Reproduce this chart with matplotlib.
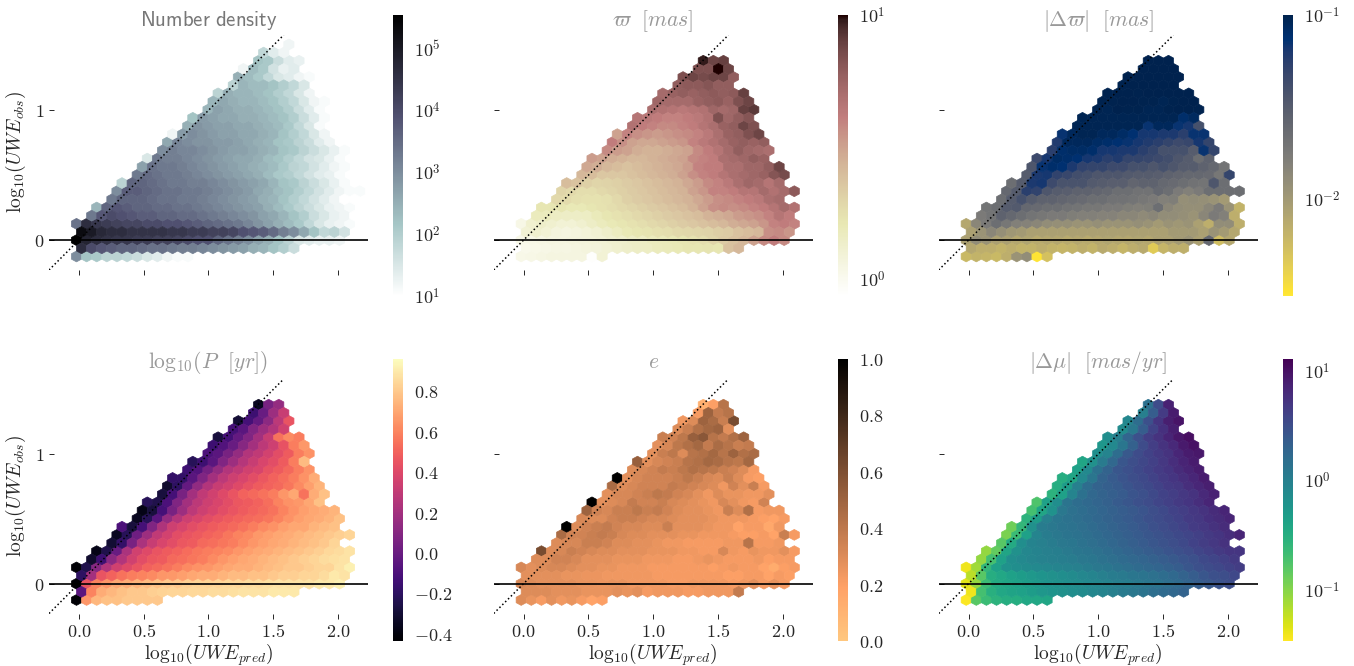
import numpy as np
import matplotlib
matplotlib.use('Agg')
import matplotlib.pyplot as plt
from matplotlib.colors import LogNorm, Normalize

plt.rcParams['mathtext.fontset'] = 'cm'
plt.rcParams['font.family'] = 'serif'
plt.rcParams['font.serif'] = ['DejaVu Serif']

# every list holds one hexagon row, lowest row first (row index -2, -1, 0, ...)
first_col = [0, 0, 0, 0, 0, 1, 2, 3, 4, 4, 6, 6, 7, 8, 9, 9, 11, 11, 13, 13, 14, 15, 16, 17, 18]
first_col_density = [0, 0, 0, 0, 0, 1, 2, 3, 4, 4, 6, 6, 7, 8, 9, 9, 11, 11, 13, 13, 14, 15, 16, 16, 18, 18, 21]

# log10(number) x 10
density = [
    [30, 22, 21, 19, 19, 18, 17, 15, 14, 12, 11, 11],
    [46, 40, 38, 37, 36, 36, 35, 34, 34, 33, 32, 32, 31, 30, 29, 28, 27, 25, 24, 22, 20, 17],
    [55, 48, 46, 45, 44, 44, 43, 43, 42, 42, 41, 40, 39, 39, 36, 34, 32, 30, 27, 25, 22, 19, 15, 14, 13, 13, 12],
    [53, 50, 47, 46, 46, 45, 45, 45, 45, 44, 44, 43, 43, 42, 42, 41, 39, 38, 37, 35, 32, 30, 26, 22, 18, 19, 16],
    [34, 46, 44, 43, 42, 41, 41, 40, 40, 39, 39, 38, 37, 36, 35, 34, 33, 31, 29, 27, 25, 23, 21, 18, 15, 13, 12, 11],
    [33, 38, 40, 39, 38, 37, 37, 36, 36, 35, 35, 34, 33, 32, 31, 30, 29, 27, 26, 24, 22, 20, 17, 15, 13, 12, 10],
    [24, 36, 38, 37, 36, 36, 35, 35, 34, 34, 33, 32, 31, 30, 29, 28, 27, 25, 23, 21, 19, 17, 15, 13, 12, 11],
    [33, 36, 36, 36, 35, 34, 34, 33, 33, 32, 31, 30, 29, 28, 27, 25, 24, 22, 20, 18, 16, 14, 12, 10, 10],
    [30, 37, 37, 36, 35, 34, 34, 33, 33, 32, 31, 30, 29, 28, 26, 25, 23, 22, 20, 18, 16, 14, 12, 11, 11],
    [19, 36, 36, 35, 34, 33, 33, 32, 32, 31, 30, 29, 28, 27, 26, 24, 22, 21, 19, 17, 15, 13, 11],
    [33, 35, 34, 33, 33, 32, 31, 30, 29, 28, 27, 26, 25, 23, 21, 20, 18, 16, 14, 13, 11],
    [27, 34, 33, 33, 32, 31, 30, 29, 28, 27, 26, 25, 24, 23, 21, 19, 18, 16, 14, 12, 11],
    [15, 33, 32, 32, 31, 30, 29, 28, 27, 26, 26, 25, 23, 22, 20, 18, 16, 15, 13, 11],
    [30, 32, 31, 31, 30, 29, 28, 27, 27, 26, 25, 24, 22, 21, 19, 17, 15, 13, 11],
    [26, 31, 30, 29, 29, 28, 28, 27, 26, 25, 24, 22, 21, 19, 17, 14, 12],
    [12, 28, 30, 29, 28, 27, 27, 26, 26, 25, 24, 22, 20, 18, 15, 12],
    [25, 29, 28, 27, 27, 26, 26, 25, 24, 23, 21, 18, 15, 11],
    [22, 28, 27, 26, 26, 25, 25, 24, 23, 22, 20, 17, 14, 11],
    [24, 27, 26, 25, 25, 24, 23, 22, 20, 17, 14, 11],
    [24, 26, 25, 24, 24, 23, 22, 20, 18, 15, 12, 11],
    [19, 25, 24, 24, 23, 22, 20, 18, 15, 12],
    [19, 24, 23, 23, 22, 20, 18, 15],
    [25, 23, 21, 18, 15, 14, 12, 11],
    [12, 23, 21, 16, 13, 14],
    [22, 21, 17, 14, 13],
    [18, 14, 12],
    [12],
]

# log10(parallax) x 100
parallax = [
    [3, 4, 5, 6, 6, 6, 6, -5, 10],
    [2, 3, 4, 5, 5, 6, 7, 8, 10, 12, 14, 15, 16, 18, 19, 20, 22, 22, 23, 22, 38, 42],
    [3, 4, 5, 6, 6, 7, 8, 9, 10, 12, 13, 15, 16, 18, 19, 20, 22, 24, 26, 30, 34, 38, 42, 50, 58, 62, 58],
    [10, 12, 10, 7, 6, 7, 9, 11, 14, 17, 20, 22, 23, 25, 26, 28, 29, 30, 31, 33, 34, 38, 40, 42, 56, 58, 54],
    [4, 12, 14, 12, 10, 10, 12, 15, 18, 20, 22, 24, 26, 28, 30, 32, 34, 36, 38, 40, 42, 46, 48, 50, 54, 60, 62, 60],
    [18, 18, 16, 15, 15, 16, 19, 22, 24, 26, 28, 30, 32, 34, 36, 38, 40, 44, 46, 48, 52, 54, 56, 60, 66, 62],
    [22, 22, 22, 20, 20, 22, 24, 26, 28, 30, 32, 34, 36, 38, 40, 44, 50, 56, 58, 56, 58, 60, 62, 66, 72, 68],
    [28, 27, 25, 24, 24, 25, 28, 32, 34, 36, 38, 40, 42, 44, 48, 52, 56, 58, 60, 62, 64, 70, 72],
    [30, 28, 26, 26, 28, 30, 32, 34, 36, 38, 40, 42, 44, 50, 54, 60, 60, 62, 66, 66, 72, 68, 72, 80],
    [40, 38, 32, 30, 31, 32, 34, 36, 38, 40, 42, 44, 48, 52, 58, 60, 64, 70, 74, 72, 66, 72],
    [42, 40, 36, 36, 36, 38, 40, 42, 44, 46, 50, 56, 60, 62, 66, 70, 72, 74, 76, 82, 86],
    [48, 46, 42, 40, 38, 40, 42, 44, 46, 48, 52, 60, 62, 62, 70, 70, 74, 74, 78, 88],
    [52, 50, 46, 44, 42, 42, 44, 46, 48, 50, 58, 60, 62, 70, 72, 74, 78, 76],
    [58, 52, 50, 46, 44, 44, 46, 48, 50, 58, 62, 66, 72, 78, 74, 72, 70],
    [62, 56, 50, 48, 48, 50, 52, 54, 60, 64, 68, 72, 76, 78, 76, 78],
    [50, 60, 56, 54, 52, 54, 56, 58, 60, 64, 70, 76, 78, 84, 88],
    [68, 62, 60, 58, 58, 60, 62, 66, 70, 76, 78, 88, 84],
    [66, 64, 62, 60, 60, 62, 64, 68, 84, 74, 78, 82],
    [70, 68, 66, 64, 66, 68, 74, 72, 74, 90, 92],
    [74, 72, 72, 72, 76, 78, 80, 76, 84, 88],
    [72, 76, 78, 76, 78, 80, 78, 80, 90],
    [78, 80, 80, 82, 78, 78],
    [84, 88, 86, 88, 88, 78],
    [84, 84, 100, 88],
    [98, 88, 90],
]

# -log10(parallax error) x 100
parallax_err = [
    [222, 218, 220, 222, 215, 195, 190, 250, 228],
    [210, 215, 215, 218, 215, 218, 218, 215, 218, 220, 218, 215, 218, 212, 215, 220, 215, 212, 235, 220, 215, 216],
    [205, 190, 195, 205, 205, 210, 208, 212, 210, 210, 212, 210, 212, 210, 208, 210, 210, 208, 210, 205, 205, 200, 195, 205, 160, 225, 210],
    [205, 195, 185, 192, 198, 200, 205, 205, 205, 205, 205, 205, 205, 205, 205, 205, 205, 205, 205, 205, 200, 200, 200, 205, 195, 200, 210],
    [210, 185, 175, 165, 172, 180, 182, 185, 190, 192, 192, 195, 195, 192, 195, 195, 195, 192, 195, 200, 195, 198, 195, 205, 215, 190, 190, 215],
    [175, 170, 155, 160, 165, 170, 172, 175, 175, 178, 180, 180, 182, 182, 185, 185, 188, 185, 190, 190, 192, 195, 185, 175, 180, 215],
    [170, 165, 150, 148, 160, 162, 165, 165, 168, 170, 172, 172, 175, 175, 178, 180, 178, 165, 185, 190, 192, 192, 185, 175, 195, 218],
    [165, 150, 140, 150, 155, 155, 158, 160, 162, 165, 165, 168, 168, 170, 172, 175, 180, 178, 192, 190, 192, 195, 200],
    [160, 150, 125, 128, 145, 150, 152, 155, 155, 158, 160, 165, 165, 168, 168, 160, 165, 175, 180, 175, 165, 165, 165, 165],
    [165, 150, 120, 118, 135, 142, 142, 142, 148, 150, 152, 152, 158, 155, 155, 160, 162, 165, 168, 170, 145, 165],
    [150, 120, 118, 128, 132, 138, 140, 145, 145, 145, 148, 150, 150, 152, 155, 158, 160, 160, 162, 172, 130],
    [145, 115, 110, 112, 120, 128, 130, 130, 135, 135, 140, 140, 145, 140, 145, 150, 150, 155, 160, 170],
    [135, 118, 108, 110, 112, 118, 120, 125, 122, 130, 130, 132, 135, 138, 145, 150, 165, 155],
    [125, 110, 108, 108, 110, 118, 118, 120, 120, 125, 130, 140, 140, 140, 150, 115, 130],
    [122, 105, 105, 105, 108, 110, 112, 115, 118, 122, 125, 130, 135, 132, 118, 130],
    [115, 105, 102, 102, 105, 105, 108, 112, 118, 118, 120, 120, 125, 115, 115],
    [102, 102, 102, 102, 102, 102, 102, 115, 105, 105, 115, 118, 140],
    [102, 102, 102, 102, 102, 102, 102, 102, 102, 102, 110, 106],
    [101, 102, 100, 101, 101, 102, 102, 101, 100, 100, 101],
    [101, 101, 100, 100, 101, 101, 102, 101, 100, 100],
    [101, 100, 100, 101, 100, 100, 100, 100, 100],
    [101, 100, 100, 100, 100, 100],
    [100, 100, 100, 100, 100, 100],
    [100, 100, 100, 100],
    [100, 100, 100],
]

# log10(period) x 100
period = [
    [-44, 65, 75, 78, 78, 80, 80, 80, 80],
    [-5, 60, 72, 75, 78, 80, 80, 82, 83, 84, 84, 85, 85, 86, 86, 87, 88, 88, 88, 90, 90, 90],
    [-44, 45, 60, 65, 70, 72, 74, 76, 78, 80, 80, 82, 83, 83, 84, 85, 85, 86, 86, 87, 88, 88, 88, 88, 90, 90, 92],
    [-20, 20, 45, 50, 55, 58, 60, 62, 65, 66, 68, 70, 72, 72, 74, 76, 76, 78, 78, 80, 82, 82, 84, 84, 86, 90, 88],
    [-42, -25, 10, 25, 35, 40, 45, 50, 52, 55, 58, 62, 64, 65, 68, 70, 72, 72, 74, 76, 78, 80, 80, 82, 84, 84, 88, 92],
    [-32, -15, 12, 25, 35, 42, 46, 48, 52, 54, 56, 58, 62, 65, 68, 70, 72, 74, 76, 78, 80, 82, 84, 86, 87, 88],
    [-38, -25, 0, 22, 35, 40, 45, 48, 50, 53, 56, 58, 60, 62, 65, 68, 70, 72, 74, 76, 78, 80, 82, 85, 86, 88],
    [-30, -18, 5, 22, 32, 38, 42, 46, 48, 52, 54, 56, 58, 62, 65, 68, 70, 72, 74, 76, 78, 80, 84],
    [-35, -22, 2, 18, 30, 36, 42, 45, 47, 50, 52, 56, 60, 62, 66, 68, 70, 72, 74, 76, 78, 80, 82, 84],
    [-10, -28, -12, 8, 24, 34, 38, 42, 45, 48, 50, 52, 55, 58, 62, 64, 68, 70, 70, 74, 76, 78],
    [-35, -22, -5, 15, 26, 34, 38, 42, 45, 48, 50, 52, 54, 56, 60, 64, 68, 70, 72, 74, 78],
    [-38, -28, -12, 5, 18, 28, 34, 38, 42, 45, 48, 50, 52, 55, 60, 64, 68, 70, 72, 74],
    [-22, -25, -10, 8, 20, 28, 34, 38, 42, 46, 48, 50, 54, 60, 64, 66, 70, 78],
    [-28, -12, 5, 20, 30, 35, 40, 45, 50, 52, 55, 58, 65, 70, 55, 72, 78],
    [-32, -20, -2, 14, 25, 32, 36, 40, 44, 48, 50, 52, 56, 62, 68, 74],
    [-18, -18, -5, 8, 20, 28, 34, 38, 42, 46, 50, 54, 58, 64, 72],
    [-15, -8, 4, 15, 25, 30, 35, 38, 44, 48, 52, 58, 64],
    [-22, -15, -5, 8, 18, 26, 32, 38, 42, 48, 58, 76],
    [-10, -5, 5, 15, 25, 30, 36, 42, 48, 58, 64],
    [-15, -8, 0, 10, 20, 28, 34, 44, 58, 66],
    [-28, -12, -2, 8, 20, 32, 55, 62, 58],
    [-12, -5, 8, 18, 25, 35],
    [-30, -12, -2, 12, 28, 45],
    [-15, 0, 18, 32],
    [-35, 5, 15],
]

# eccentricity x 100
eccentricity = [
    [30, 26, 22, 28, 24, 26, 22, 18, 20],
    [30, 30, 30, 28, 28, 28, 26, 26, 26, 28, 26, 28, 22, 24, 24, 24, 22, 22, 24, 24, 24, 38],
    [32, 30, 28, 28, 28, 28, 26, 26, 25, 26, 26, 24, 24, 24, 24, 22, 22, 24, 24, 24, 24, 22, 24, 28, 22, 26, 22],
    [28, 28, 28, 28, 26, 26, 25, 25, 24, 24, 24, 24, 24, 22, 22, 22, 22, 22, 22, 22, 20, 20, 22, 22, 18, 22, 20],
    [32, 28, 30, 32, 32, 30, 28, 28, 26, 26, 24, 24, 24, 22, 22, 22, 22, 22, 22, 20, 22, 24, 22, 22, 18, 14, 20, 22],
    [30, 30, 34, 34, 32, 28, 28, 28, 26, 26, 26, 24, 24, 24, 22, 22, 24, 26, 24, 22, 22, 22, 24, 20, 22, 22],
    [62, 30, 32, 36, 34, 32, 30, 30, 28, 28, 28, 26, 26, 26, 24, 24, 22, 22, 32, 24, 22, 26, 24, 24, 28, 22],
    [30, 32, 32, 36, 36, 34, 30, 30, 28, 28, 26, 24, 24, 22, 22, 22, 22, 24, 24, 42, 22, 22, 24],
    [46, 34, 34, 36, 38, 36, 32, 30, 30, 28, 28, 28, 26, 26, 24, 24, 24, 22, 20, 20, 22, 18, 36, 22],
    [100, 30, 34, 36, 38, 34, 32, 32, 30, 30, 36, 28, 28, 28, 26, 24, 24, 18, 22, 22, 16, 24],
    [32, 30, 30, 34, 36, 36, 34, 32, 32, 30, 28, 28, 28, 26, 24, 24, 24, 22, 20, 18, 22],
    [50, 34, 32, 36, 36, 40, 36, 38, 34, 30, 28, 28, 26, 24, 36, 30, 44, 22, 24, 24],
    [100, 28, 30, 32, 38, 34, 34, 36, 32, 30, 28, 26, 24, 32, 28, 24, 22, 34],
    [28, 32, 32, 34, 36, 40, 38, 34, 32, 28, 24, 30, 26, 26, 24, 24, 28],
    [46, 30, 32, 34, 34, 34, 38, 36, 34, 32, 30, 24, 34, 28, 36, 22],
    [100, 28, 32, 34, 34, 34, 36, 40, 36, 32, 30, 36, 30, 22, 20],
    [30, 32, 34, 38, 36, 40, 44, 42, 40, 36, 34, 30, 22],
    [52, 28, 32, 34, 36, 42, 44, 48, 46, 42, 40, 48],
    [28, 36, 40, 30, 42, 44, 48, 42, 50, 44, 46],
    [28, 32, 40, 44, 48, 38, 46, 42, 36, 38],
    [36, 34, 40, 52, 56, 42, 38, 44, 50],
    [30, 36, 44, 48, 50, 28],
    [24, 30, 50, 46, 36, 62],
    [22, 50, 38, 42],
    [12, 20, 42],
]

# log10(proper motion difference) x 100
pm_diff = [
    [-145, -80, -65, -55, -50, -48, -42, -42, -40],
    [-140, -70, -52, -42, -38, -35, -30, -25, -22, -18, -15, -12, -8, -5, 0, 5, 8, 12, 18, 22, 25, 30],
    [-135, -105, -65, -45, -40, -35, -30, -26, -22, -20, -16, -14, -10, -8, -5, 0, 2, 6, 10, 12, 18, 22, 28, 35, 40, 45, 50],
    [-120, -80, -50, -42, -35, -30, -26, -22, -18, -15, -12, -8, -5, 0, 4, 6, 10, 12, 16, 20, 24, 30, 36, 42, 48, 50, 55],
    [-140, -110, -60, -35, -20, -15, -12, -10, -8, -5, -2, 0, 4, 8, 10, 14, 18, 22, 25, 28, 32, 36, 42, 48, 52, 55, 60, 65],
    [-105, -70, -35, -15, -10, -6, -3, 0, 2, 4, 8, 10, 14, 18, 22, 25, 28, 32, 36, 40, 44, 48, 54, 58, 62, 68],
    [-105, -85, -40, -18, -8, -4, 0, 2, 6, 10, 12, 16, 20, 24, 28, 32, 36, 40, 44, 48, 52, 58, 62, 68, 72, 72],
    [-80, -45, -15, -4, 0, 4, 8, 10, 14, 18, 22, 26, 30, 34, 38, 42, 46, 50, 54, 60, 65, 70, 75],
    [-95, -65, -35, -5, 4, 8, 12, 14, 18, 22, 26, 30, 34, 38, 42, 46, 50, 54, 58, 62, 68, 72, 78, 85],
    [-90, -60, -18, 4, 8, 12, 14, 18, 22, 26, 30, 34, 38, 42, 48, 52, 56, 60, 66, 70, 75, 80],
    [-55, -30, 0, 10, 14, 18, 22, 26, 30, 34, 38, 42, 48, 52, 56, 60, 66, 70, 76, 80, 85],
    [-70, -40, -20, 8, 16, 20, 24, 28, 32, 36, 40, 44, 50, 54, 60, 64, 70, 74, 80, 85],
    [-75, -35, -15, 12, 20, 24, 28, 32, 38, 42, 48, 52, 58, 62, 68, 72, 78, 85],
    [-55, -35, -5, 15, 25, 30, 34, 38, 44, 48, 54, 60, 64, 70, 74, 82, 88],
    [-50, -30, 0, 20, 30, 34, 38, 44, 50, 54, 60, 66, 70, 78, 84, 90],
    [-50, -40, -10, 10, 30, 38, 44, 50, 54, 60, 66, 72, 78, 84, 92],
    [-35, -10, 15, 30, 42, 48, 54, 60, 66, 72, 80, 86, 92],
    [-40, -18, 5, 25, 42, 50, 56, 62, 70, 78, 86, 92],
    [-15, -5, 20, 40, 52, 60, 68, 74, 84, 92, 95],
    [-25, -10, 10, 32, 52, 64, 74, 82, 94, 100],
    [-15, 0, 28, 48, 64, 74, 85, 96, 102],
    [-12, 8, 36, 60, 76, 90],
    [-8, 20, 48, 72, 90, 98],
    [0, 36, 66, 92],
    [15, 52, 88],
]

titles = [r'$\mathsf{Number\ density}$', r'$\varpi\ \ [mas]$', r'$|\Delta\varpi|\ \ [mas]$',
          r'$\mathrm{log}_{10}(P\ \ [yr])$', r'$e$', r'$|\Delta\mu|\ \ [mas/yr]$']
title_colors = ['#777777', '#999999', '#999999', '#999999', '#999999', '#999999']
cmaps = ['bone_r', 'pink_r', 'cividis_r', 'magma', 'copper_r', 'viridis_r']

x0 = -0.018
dx = 0.078
dy = 0.0628
W, H = 1354, 666


def centres(rows, first):
    xs, ys, vals = [], [], []
    for i, row in enumerate(rows):
        r = i - 2
        for j, v in enumerate(row):
            xs.append(x0 + dx * (first[i] + j + 0.5 * (r % 2)))
            ys.append(dy * r)
            vals.append(v)
    return np.array(xs), np.array(ys), np.array(vals, dtype=float)


def px_axes(l, t, r, b):
    return fig.add_axes([l / W, 1 - b / H, (r - l) / W, (b - t) / H])


panels = [
    (density, first_col_density, lambda v: 10 ** (v / 10), LogNorm(10, 3.4e5)),
    (parallax, first_col, lambda v: 10 ** (v / 100), LogNorm(0.865, 10)),
    (parallax_err, first_col, lambda v: 10 ** (-v / 100), LogNorm(3e-3, 0.1)),
    (period, first_col, lambda v: v / 100, Normalize(-0.436, 0.96)),
    (eccentricity, first_col, lambda v: v / 100, Normalize(0, 1)),
    (pm_diff, first_col, lambda v: 10 ** (v / 100), LogNorm(0.034, 13)),
]
ax_left = [49, 493.7, 938.7]
ax_top = [35, 379]
ax_bottom = [270, 613.5]
cb_left = [393, 838, 1283]
cb_top = [15, 359]
cb_bottom = [296, 641]
cb_ticks = [
    ([10, 100, 1000, 1e4, 1e5], ['$10^{1}$', '$10^{2}$', '$10^{3}$', '$10^{4}$', '$10^{5}$']),
    ([1, 10], ['$10^{0}$', '$10^{1}$']),
    ([0.01, 0.1], ['$10^{-2}$', '$10^{-1}$']),
    ([-0.4, -0.2, 0, 0.2, 0.4, 0.6, 0.8], ['$-0.4$', '$-0.2$', '$0.0$', '$0.2$', '$0.4$', '$0.6$', '$0.8$']),
    ([0, 0.2, 0.4, 0.6, 0.8, 1], ['$0.0$', '$0.2$', '$0.4$', '$0.6$', '$0.8$', '$1.0$']),
    ([0.1, 1, 10], ['$10^{-1}$', '$10^{0}$', '$10^{1}$']),
]
ink = '#262626'

fig = plt.figure(figsize=(W / 100, H / 100), dpi=100)
for n in range(6):
    rows, first, conv, norm = panels[n]
    row_i, col_i = n // 3, n % 3
    ax = px_axes(ax_left[col_i], ax_top[row_i], ax_left[col_i] + 319, ax_bottom[row_i])
    x, y, v = centres(rows, first)
    hb = ax.hexbin(x, y, C=conv(v), gridsize=(30, 14),
                   extent=(x0, x0 + 30 * dx, -2 * dy, -2 * dy + 14 * 2 * dy),
                   reduce_C_function=np.mean, cmap=cmaps[n], norm=norm,
                   linewidths=0.5, edgecolors='face')
    ax.plot([-0.23, 1.58], [-0.23, 1.58], color='k', ls=':', lw=1.1)
    ax.axhline(0, color='k', lw=1.2)
    ax.set_xlim(-0.23, 2.23)
    ax.set_ylim(-0.23, 1.58)
    for s in ax.spines.values():
        s.set_visible(False)
    ax.set_xticks([0, 0.5, 1, 1.5, 2])
    ax.set_yticks([0, 1])
    ax.tick_params(axis='x', direction='out', length=3.6, width=0.7, color=ink)
    ax.tick_params(axis='y', direction='in', length=3.6, width=0.7, color=ink)
    if row_i == 1:
        ax.set_xticklabels(['$0.0$', '$0.5$', '$1.0$', '$1.5$', '$2.0$'], fontsize=13, color=ink)
        ax.set_xlabel(r'$\mathrm{log}_{10}(UWE_{pred})$', fontsize=14, color=ink, labelpad=0)
    else:
        ax.set_xticklabels([])
    if col_i == 0:
        ax.set_yticklabels(['$0$', '$1$'], fontsize=13, color=ink)
        ax.set_ylabel(r'$\mathrm{log}_{10}(UWE_{obs})$', fontsize=14, color=ink, labelpad=4)
    else:
        ax.set_yticklabels([])
    ax.set_title(titles[n], fontsize=15 if n == 0 else 15.5, color=title_colors[n],
                 pad=6.5 if row_i == 0 else 8)

    cax = px_axes(cb_left[col_i], cb_top[row_i], cb_left[col_i] + 10, cb_bottom[row_i])
    cb = fig.colorbar(hb, cax=cax)
    cb.outline.set_visible(False)
    cb.set_ticks(cb_ticks[n][0])
    cb.set_ticklabels(cb_ticks[n][1])
    cax.minorticks_off()
    cax.tick_params(length=0, pad=8, labelsize=13, labelcolor=ink)

plt.savefig('out.png', dpi=100)
